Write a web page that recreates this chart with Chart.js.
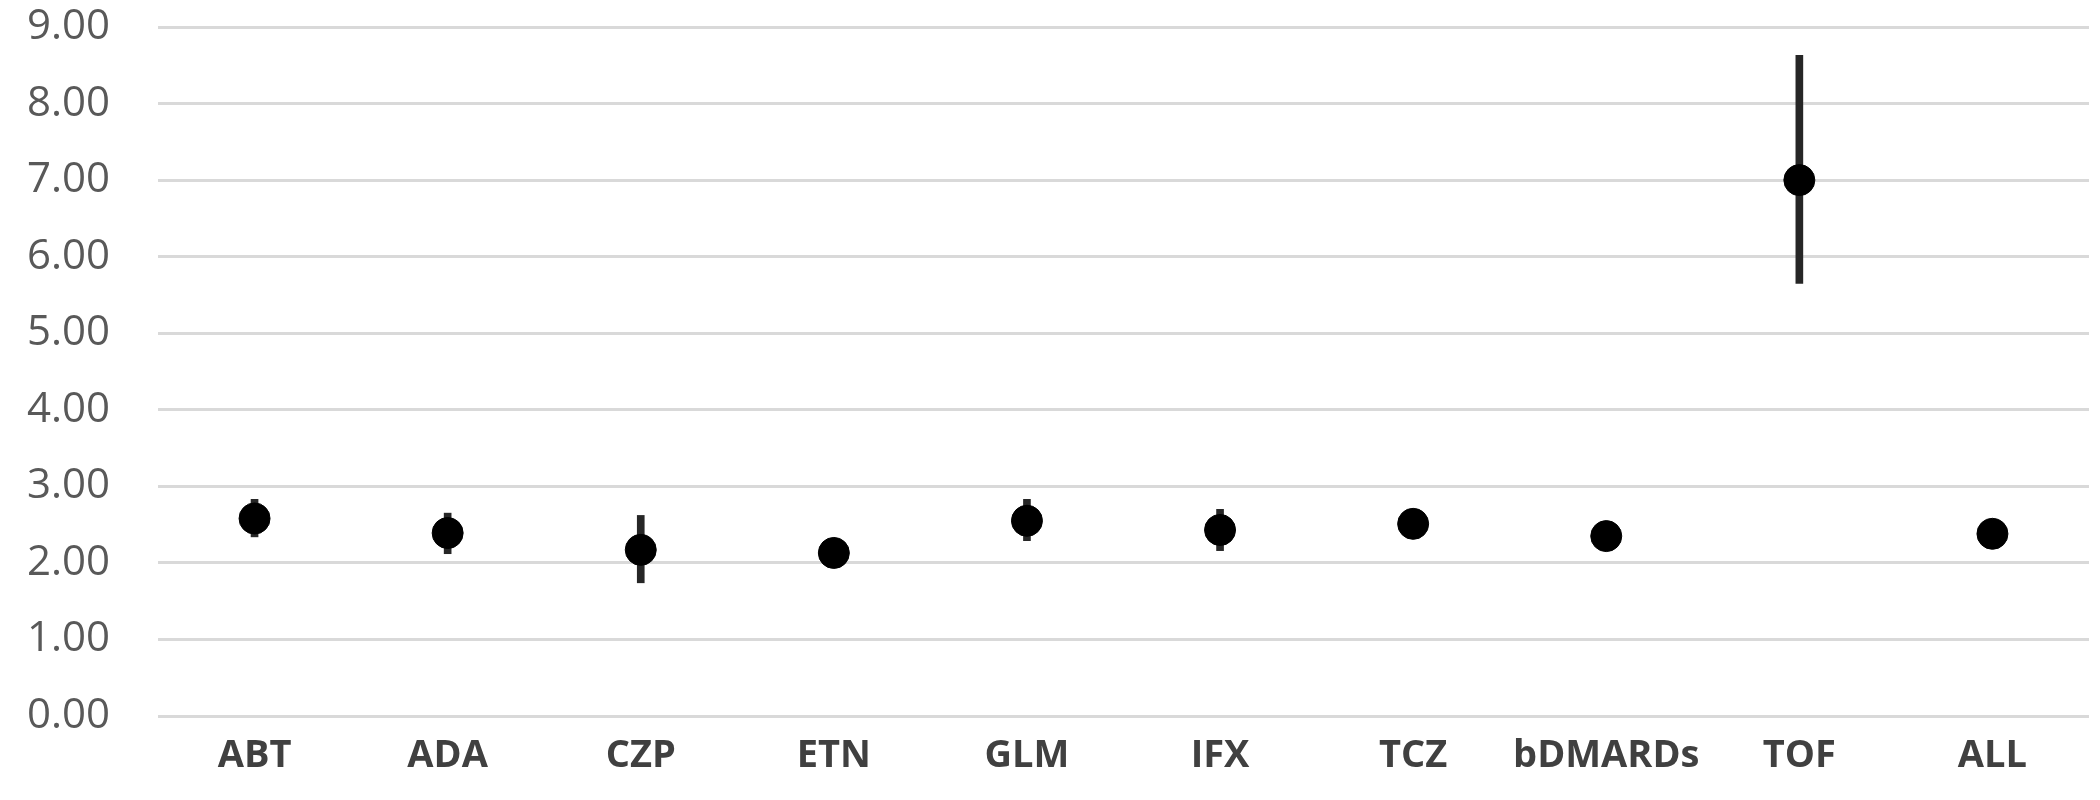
<!DOCTYPE html>
<html>
<head>
<meta charset="utf-8">
<script src="https://cdn.jsdelivr.net/npm/chart.js@4.4.2/dist/chart.umd.min.js"></script>
<style>
  html, body { margin: 0; padding: 0; background: #fff; }
  #wrap { width: 2100px; height: 800px; position: relative; }
</style>
</head>
<body>
<div id="wrap"><canvas id="chart"></canvas></div>
<script>
const categories = ['ABT', 'ADA', 'CZP', 'ETN', 'GLM', 'IFX', 'TCZ', 'bDMARDs', 'TOF', 'ALL'];
const meanValues = [2.58, 2.39, 2.17, 2.13, 2.55, 2.43, 2.51, 2.35, 7.00, 2.38];
const lowerValues = [2.34, 2.12, 1.74, 2.00, 2.29, 2.16, 2.36, 2.25, 5.65, 2.28];
const upperValues = [2.83, 2.65, 2.62, 2.26, 2.83, 2.70, 2.66, 2.45, 8.63, 2.48];
const yTicks = [0, 1, 2, 3, 4, 5, 6, 7, 8, 9];

const ctx = document.getElementById('chart');
new Chart(ctx, {
  type: 'bar',
  data: {
    labels: categories,
    datasets: [
      {
        type: 'line',
        data: meanValues,
        showLine: false,
        pointRadius: 15.5,
        pointBackgroundColor: '#000000',
        pointBorderColor: '#000000',
        pointBorderWidth: 1,
        order: 0
      },
      {
        data: categories.map((c, i) => [lowerValues[i], upperValues[i]]),
        backgroundColor: '#262626',
        barThickness: 7,
        order: 1
      }
    ]
  },
  options: {
    responsive: true,
    maintainAspectRatio: false,
    animation: false,
    layout: {
      autoPadding: false,
      padding: { top: 27, right: 11, left: 0, bottom: 0 }
    },
    plugins: {
      legend: { display: false },
      tooltip: { enabled: false }
    },
    scales: {
      x: {
        grid: { display: false },
        border: { display: false },
        ticks: {
          padding: 9,
          color: '#404040',
          font: { family: 'Open Sans', size: 38, weight: 'bold' },
          maxRotation: 0,
          autoSkip: false
        },
        afterFit: scale => {
          scale.height = 84;
          scale.paddingLeft = 0;
          scale.paddingRight = 0;
        }
      },
      y: {
        min: 0,
        max: 9,
        afterBuildTicks: scale => { scale.ticks = yTicks.map(v => ({ value: v })); },
        grid: { color: '#d9d9d9', lineWidth: 3, drawTicks: false },
        border: { display: false },
        ticks: {
          padding: 48,
          color: '#595959',
          font: { family: 'Open Sans', size: 42 },
          callback: v => v.toFixed(2)
        },
        afterFit: scale => {
          scale.width = 158;
          scale.paddingTop = 0;
          scale.paddingBottom = 0;
        }
      }
    }
  }
});
</script>
</body>
</html>
